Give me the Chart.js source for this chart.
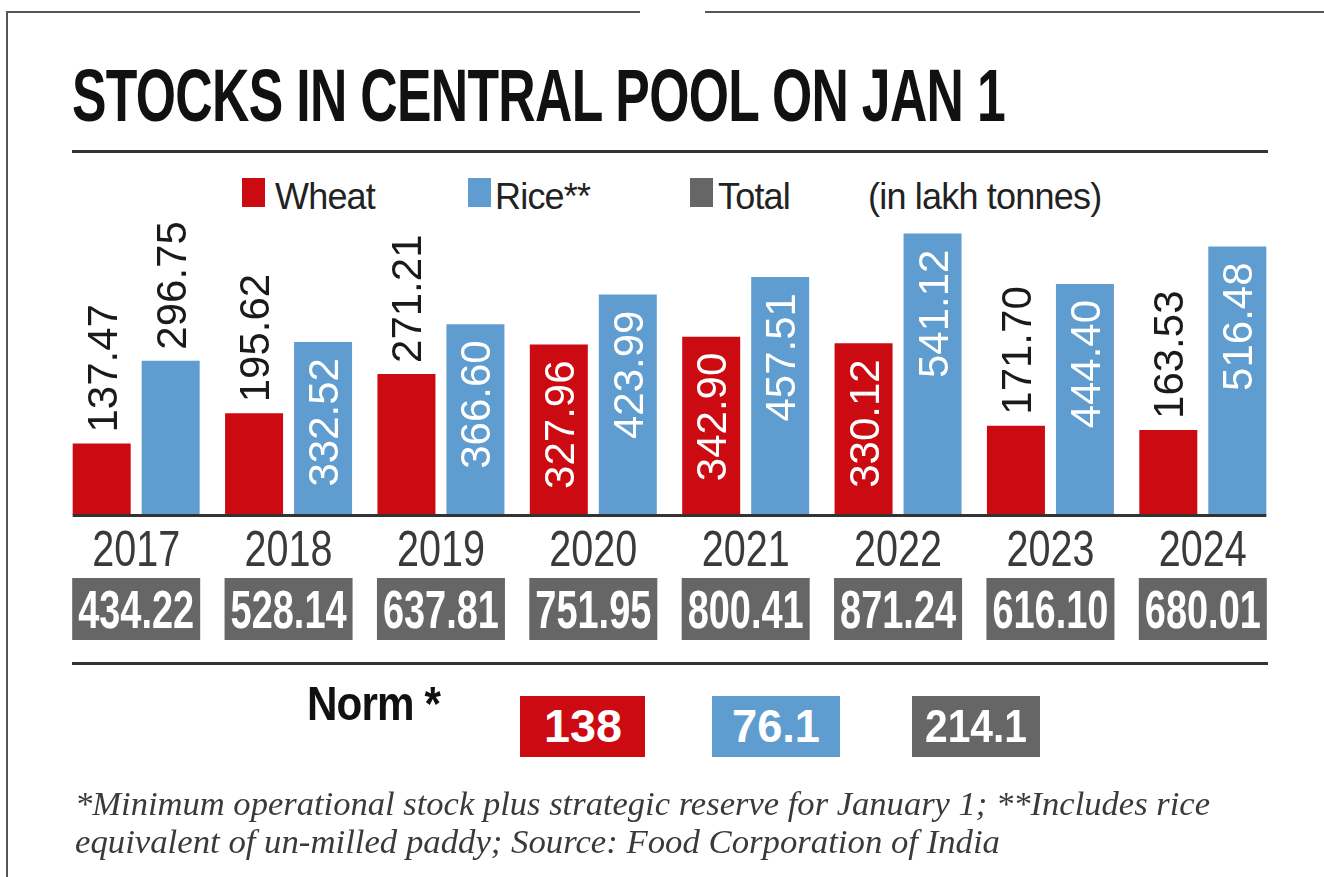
<!DOCTYPE html>
<html>
<head>
<meta charset="utf-8">
<script src="https://cdn.jsdelivr.net/npm/chart.js@4"></script>
<style>
  html, body { margin: 0; padding: 0; background: #fff; }
  #page { position: relative; width: 1324px; height: 877px; overflow: hidden; background: #fff; }
  #page canvas { position: absolute; left: 0; top: 0; }
  .abs { position: absolute; white-space: nowrap; line-height: 1; }
  .rule { position: absolute; background: #333; }
  #title { left: 72px; top: 52px; font: bold 75px "Liberation Sans", sans-serif; color: #111; transform-origin: 0 0; letter-spacing: -1px; }
  .leg { font: 36px "Liberation Sans", sans-serif; color: #222; top: 176px; letter-spacing: -0.8px; }
  .sw { position: absolute; top: 178px; width: 23px; height: 29px; }
  #norm { left: 307px; top: 676px; font: bold 48px "Liberation Sans", sans-serif; color: #111; letter-spacing: -1px; transform-origin: 0 0; }
  .nbox { position: absolute; top: 696px; height: 61px; }
  .nbox span { position: absolute; left: 50%; top: 6px; font: bold 47px "Liberation Sans", sans-serif; line-height: 1; color: #fff; white-space: nowrap; transform-origin: 0 0; }
  .foot { left: 75px; font: italic 33px "Liberation Serif", serif; color: #3a3a3a; transform-origin: 0 0; }
</style>
</head>
<body>
<div id="page">
  <div class="rule" style="left:6px;top:11px;width:634px;height:2px;background:#555"></div>
  <div class="rule" style="left:705px;top:11px;width:619px;height:2px;background:#555"></div>
  <div class="rule" style="left:6px;top:11px;width:2px;height:866px;background:#555"></div>
  <div id="title" class="abs">STOCKS IN CENTRAL POOL ON JAN 1</div>
  <div class="rule" style="left:72px;top:150px;width:1196px;height:3px"></div>
  <div id="legend"></div>
  <canvas id="chart" width="1324" height="877"></canvas>
  <div class="rule" style="left:72px;top:662px;width:1196px;height:3px"></div>
  <div id="norm" class="abs">Norm *</div>
  <div id="norms"></div>
  <div id="foot1" class="abs foot" style="top:786px">*Minimum operational stock plus strategic reserve for January 1; **Includes rice</div>
  <div id="foot2" class="abs foot" style="top:824px">equivalent of un-milled paddy; Source: Food Corporation of India</div>
</div>
<script>
// data
const years = ['2017', '2018', '2019', '2020', '2021', '2022', '2023', '2024'];
const wheat = [137.47, 195.62, 271.21, 327.96, 342.90, 330.12, 171.70, 163.53];
const rice = [296.75, 332.52, 366.60, 423.99, 457.51, 541.12, 444.40, 516.48];
const totals = ['434.22', '528.14', '637.81', '751.95', '800.41', '871.24', '616.10', '680.01'];
const seriesNames = ['Wheat', 'Rice**', 'Total'];
const norms = ['138', '76.1', '214.1'];
const unitNote = '(in lakh tonnes)';

const RED = '#cc0a12';
const BLUE = '#5f9dd0';
const GREY = '#666666';
const colours = [RED, BLUE, GREY];

// legend (html)
const legend = document.getElementById('legend');
const legX = [242, 468, 690];
const legTextX = [275, 495, 718];
seriesNames.forEach(function (name, i) {
    const sw = document.createElement('div');
    sw.className = 'sw';
    sw.style.left = legX[i] + 'px';
    sw.style.background = colours[i];
    legend.appendChild(sw);
    const t = document.createElement('div');
    t.className = 'abs leg';
    t.style.left = legTextX[i] + 'px';
    t.textContent = name;
    legend.appendChild(t);
});
const unit = document.createElement('div');
unit.className = 'abs leg';
unit.style.left = '868px';
unit.textContent = unitNote;
legend.appendChild(unit);

// norm boxes
const normsDiv = document.getElementById('norms');
const normX = [520, 712, 912];
const normW = [125, 128, 128];
const normTextW = [78, 88, 102];
norms.forEach(function (v, i) {
    const b = document.createElement('div');
    b.className = 'nbox';
    b.style.left = normX[i] + 'px';
    b.style.width = normW[i] + 'px';
    b.style.background = colours[i];
    const s = document.createElement('span');
    s.textContent = v;
    b.appendChild(s);
    normsDiv.appendChild(b);
    const k = normTextW[i] / s.getBoundingClientRect().width;
    s.style.transform = 'scaleX(' + k + ') translateX(-50%)';
});

// squeeze text into the width it takes in the picture
function fitWidth(id, w) {
    const el = document.getElementById(id);
    const cur = el.getBoundingClientRect().width;
    el.style.transform = 'scaleX(' + (w / cur) + ')';
}
fitWidth('title', 933);
fitWidth('norm', 133);
fitWidth('foot1', 1135);
fitWidth('foot2', 925);

function fillFit(ctx, txt, x, y, w) {
    const mw = ctx.measureText(txt).width;
    ctx.save();
    ctx.translate(x, y);
    ctx.scale(w / mw, 1);
    ctx.textAlign = 'center';
    ctx.fillText(txt, 0, 0);
    ctx.restore();
}

// value labels on / above the bars
const valueLabels = {
    id: 'valueLabels',
    afterDatasetsDraw(chart) {
        const ctx = chart.ctx;
        const size = 42;
        const cap = size * 0.716;
        ctx.save();
        ctx.font = size + 'px "Liberation Sans", sans-serif';
        chart.data.datasets.forEach(function (ds, di) {
            const meta = chart.getDatasetMeta(di);
            meta.data.forEach(function (bar, i) {
                const txt = ds.data[i].toFixed(2);
                const tw = ctx.measureText(txt).width;
                const h = bar.base - bar.y;
                ctx.save();
                if (h >= tw + 35) {
                    ctx.translate(bar.x, bar.y + 16);
                    ctx.rotate(-Math.PI / 2);
                    ctx.textAlign = 'right';
                    ctx.fillStyle = '#fff';
                } else {
                    ctx.translate(bar.x, bar.y - 11);
                    ctx.rotate(-Math.PI / 2);
                    ctx.textAlign = 'left';
                    ctx.fillStyle = '#1a1a1a';
                }
                ctx.textBaseline = 'alphabetic';
                ctx.fillText(txt, 0, cap / 2);
                ctx.restore();
            });
        });
        ctx.restore();
    }
};

// baseline, year labels and total boxes under the bars
const underBars = {
    id: 'underBars',
    afterDraw(chart) {
        const ctx = chart.ctx;
        const x = chart.scales.x;
        const m0 = chart.getDatasetMeta(0).data;
        const m1 = chart.getDatasetMeta(1).data;
        const left = m0[0].x - m0[0].width / 2;
        const right = m1[m1.length - 1].x + m1[m1.length - 1].width / 2;
        const base = chart.chartArea.bottom;
        ctx.save();
        ctx.fillStyle = '#333';
        ctx.fillRect(left, base - 1, right - left, 3);
        ctx.textBaseline = 'alphabetic';

        years.forEach(function (yr, i) {
            const cx = x.getPixelForValue(i);
            ctx.fillStyle = '#3a3a3a';
            ctx.font = '50px "Liberation Sans", sans-serif';
            fillFit(ctx, yr, cx, 566, 88);

            ctx.fillStyle = GREY;
            ctx.fillRect(cx - 64, 578, 128, 62);
            ctx.fillStyle = '#fff';
            ctx.font = 'bold 53px "Liberation Sans", sans-serif';
            fillFit(ctx, totals[i], cx, 628, 116);
        });
        ctx.restore();
    }
};

new Chart(document.getElementById('chart').getContext('2d'), {
    type: 'bar',
    data: {
        labels: years,
        datasets: [{
            label: seriesNames[0],
            data: wheat,
            backgroundColor: RED
        }, {
            label: seriesNames[1],
            data: rice,
            backgroundColor: BLUE
        }]
    },
    options: {
        responsive: false,
        animation: false,
        devicePixelRatio: 1,
        categoryPercentage: 0.9055,
        barPercentage: 0.8406,
        layout: {
            padding: { left: 60, right: 45, top: 203, bottom: 362 }
        },
        scales: {
            x: { display: false },
            y: { display: false, min: 0, max: 600 }
        },
        plugins: {
            legend: { display: false },
            tooltip: { enabled: false }
        }
    },
    plugins: [valueLabels, underBars]
});
</script>
</body>
</html>
